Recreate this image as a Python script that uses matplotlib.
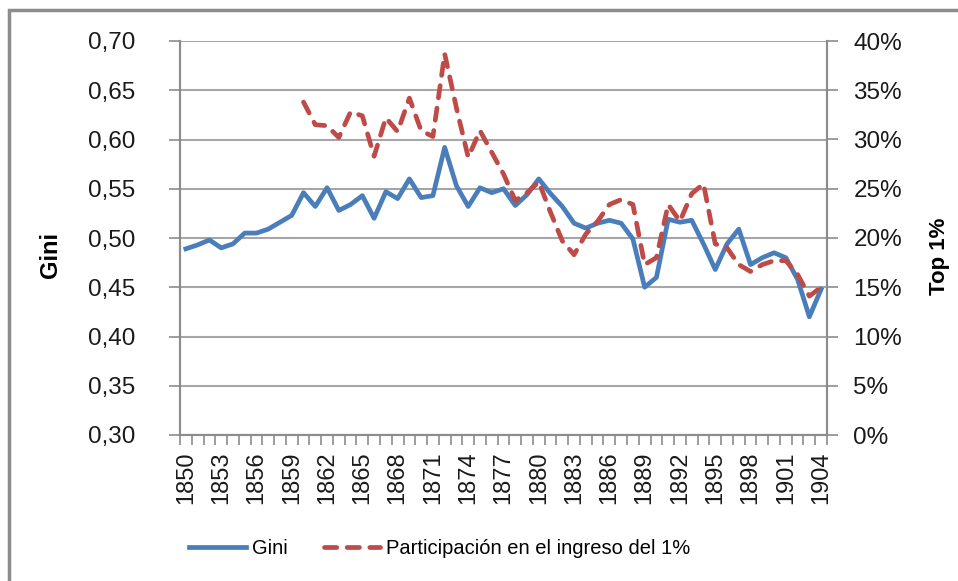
import numpy as np
import matplotlib
matplotlib.use('Agg')
import matplotlib.pyplot as plt
from matplotlib.ticker import FuncFormatter, FixedLocator
from matplotlib.patches import Rectangle

plt.rcParams['font.family'] = ['Liberation Sans', 'DejaVu Sans']

years = list(range(1850, 1905))
gini = [0.489, 0.493, 0.498, 0.490, 0.494, 0.505, 0.505, 0.509, 0.516, 0.523,
        0.546, 0.532, 0.551, 0.528, 0.534, 0.543, 0.520, 0.547, 0.540, 0.560,
        0.541, 0.543, 0.592, 0.553, 0.532, 0.551, 0.546, 0.550, 0.533, 0.544,
        0.560, 0.545, 0.532, 0.515, 0.510, 0.515, 0.518, 0.515, 0.499, 0.450,
        0.460, 0.519, 0.516, 0.518, 0.494, 0.468, 0.494, 0.509, 0.473, 0.480,
        0.485, 0.480, 0.458, 0.420, 0.448]
# top 1% share (%), no data before 1860
top1 = [np.nan] * 10 + [
        33.8, 31.5, 31.4, 30.2, 32.8, 32.4, 28.3, 32.2, 30.8, 34.2,
        30.9, 30.3, 38.7, 33.2, 28.2, 30.9, 28.7, 26.5, 23.8, 24.6,
        25.7, 22.6, 19.7, 18.3, 20.4, 21.7, 23.4, 23.9, 23.4, 17.3,
        18.0, 23.4, 21.7, 24.5, 25.5, 19.4, 19.0, 17.3, 16.6, 17.3,
        17.7, 17.7, 16.3, 14.1, 15.0]
top1 = np.array(top1) / 100.0

blue = '#4A7EBB'
red = '#BE4B48'
gray = '#8C8C8C'

fig = plt.figure(figsize=(9.58, 5.81), dpi=100)
ax = fig.add_axes([180/958, 1-435/581, (827-180)/958, (435-41)/581])
ax2 = ax.twinx()

x = np.arange(len(years))
l1, = ax.plot(x, gini, color=blue, lw=3.4, zorder=3)
l2, = ax2.plot(x, top1, color=red, lw=3.4, dash_capstyle='round', zorder=3)
l2.set_dashes([2.6, 2.2])

ax.set_xlim(-0.5, len(years) - 0.5)
ax.set_ylim(0.30, 0.70)
ax2.set_ylim(0, 0.40)
ax.set_yticks(np.arange(0.30, 0.701, 0.05))
ax2.set_yticks(np.arange(0, 0.401, 0.05))
ax.yaxis.set_major_formatter(FuncFormatter(lambda v, p: f'{v:.2f}'.replace('.', ',')))
ax2.yaxis.set_major_formatter(FuncFormatter(lambda v, p: f'{v*100:.0f}%'))

ax.set_xticks(x[::3])
ax.set_xticklabels([str(y) for y in years[::3]], rotation=90)
ax.xaxis.set_minor_locator(FixedLocator(np.arange(-0.5, len(years), 1)))
ax.tick_params(axis='x', which='major', length=0, pad=12, labelsize=17, colors='#1a1a1a')
ax.tick_params(axis='x', which='minor', length=7, width=1.2, color=gray, direction='out')
ax.tick_params(axis='y', length=8, width=1.2, color=gray, labelsize=17.5, pad=24, labelcolor='#1a1a1a')
ax2.tick_params(axis='y', length=8, width=1.2, color=gray, labelsize=17.5, pad=11, labelcolor='#1a1a1a')

ax.grid(axis='y', color='#A6A6A6', lw=1.5)
ax.set_axisbelow(True)
for a in (ax, ax2):
    a.spines['top'].set_visible(False)
    for s in ('left', 'right', 'bottom'):
        a.spines[s].set_color(gray)
        a.spines[s].set_linewidth(1.5)

fig.text(50/958, 1-255/581, 'Gini', rotation=90, fontsize=17, fontweight='bold',
         ha='center', va='center')
fig.text(940/958, 1-256/581, 'Top 1%', rotation=90, fontsize=16, fontweight='bold',
         ha='center', va='center')

leg = fig.legend([l1, l2], ['Gini', 'Participación en el ingreso del 1%'],
                 loc='center', bbox_to_anchor=(440/958, 1-549/581), ncol=2,
                 frameon=False, fontsize=14.5, handlelength=2.8, columnspacing=1.8,
                 handletextpad=0.3)

fig.add_artist(Rectangle((9/958, -0.1), 1.2, 1-10/581+0.1, transform=fig.transFigure,
                         fill=False, edgecolor=gray, lw=2.5))

fig.savefig('out.png', dpi=100)
